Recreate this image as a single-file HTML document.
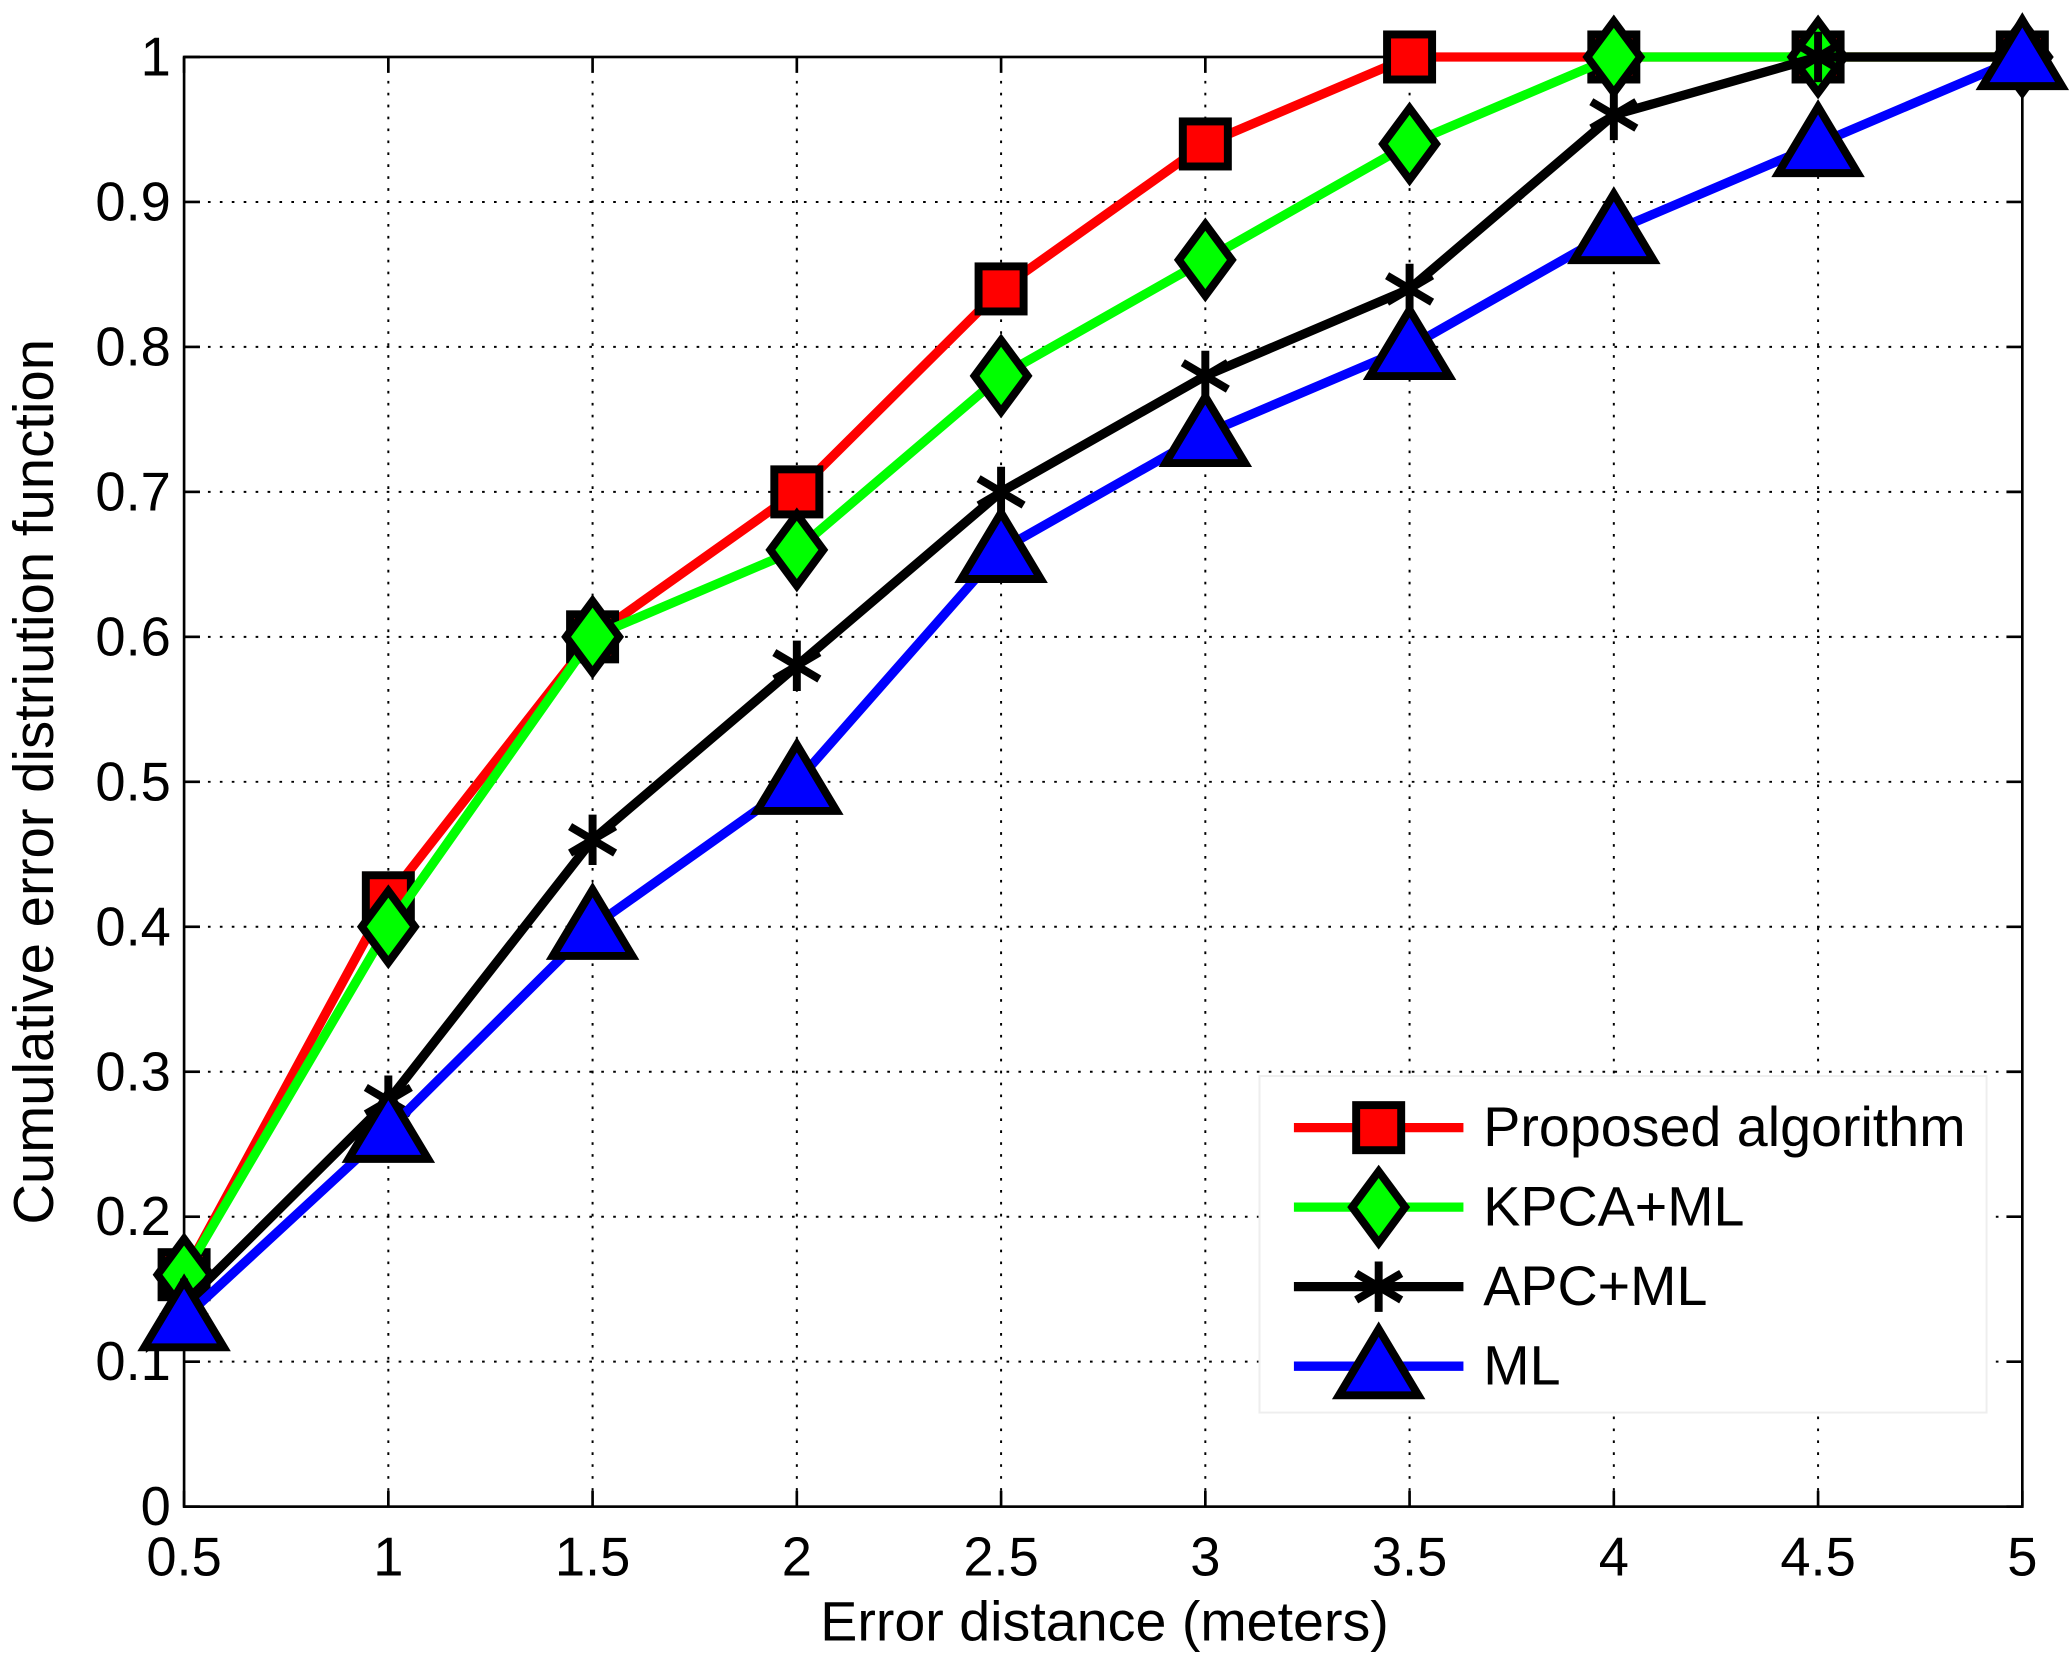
<!DOCTYPE html>
<html><head><meta charset="utf-8"><style>
html,body{margin:0;padding:0;background:#fff;}
svg{display:block;}
text{font-family:"Liberation Sans",sans-serif;fill:#000;}
</style></head><body>
<svg id="chart" width="2070" height="1663" viewBox="0 0 1563 1255" preserveAspectRatio="none" xmlns="http://www.w3.org/2000/svg">
<rect width="1563" height="1255" fill="#fff"/>
<g id="grid"></g>
<g id="axes"></g>
<g id="series"></g>
<g id="legend"></g>
<text x="834" y="1238" font-size="42" text-anchor="middle">Error distance (meters)</text>
<text transform="translate(40,590) rotate(-90)" font-size="42.5" text-anchor="middle">Cumulative error distriution function</text>
</svg>
<script>
const xCats = [0.5,1,1.5,2,2.5,3,3.5,4,4.5,5];
const xTickLabels = ["0.5","1","1.5","2","2.5","3","3.5","4","4.5","5"];
const yTicks = [0,0.1,0.2,0.3,0.4,0.5,0.6,0.7,0.8,0.9,1];
const yTickLabels = ["0","0.1","0.2","0.3","0.4","0.5","0.6","0.7","0.8","0.9","1"];
const proposed = [0.16,0.42,0.6,0.7,0.84,0.94,1,1,1,1];
const kpca = [0.16,0.40,0.6,0.66,0.78,0.86,0.94,1,1,1];
const apc = [0.14,0.28,0.46,0.58,0.70,0.78,0.84,0.96,1,1];
const ml = [0.13,0.26,0.40,0.50,0.66,0.74,0.80,0.88,0.94,1];
const seriesNames = ["Proposed algorithm","KPCA+ML","APC+ML","ML"];

const NS="http://www.w3.org/2000/svg";
const L=139,R=1527,T=43,B=1137;
const sx=v=>L+(v-0.5)/4.5*(R-L);
const sy=v=>B-v*(B-T);
function mk(tag,attrs,parent){const e=document.createElementNS(NS,tag);for(const k in attrs)e.setAttribute(k,attrs[k]);parent.appendChild(e);return e;}
const grid=document.getElementById('grid'),axes=document.getElementById('axes'),ser=document.getElementById('series'),leg=document.getElementById('legend');
xCats.forEach((v,i)=>{
  const x=sx(v);
  if(i>0&&i<xCats.length-1){const g=mk('line',{x1:x,x2:x,y1:T,y2:B,stroke:'#000','stroke-width':1.5,'stroke-dasharray':'2 7'},grid);
  
  }
  mk('line',{x1:x,x2:x,y1:B,y2:B-12,stroke:'#000','stroke-width':2},axes);
  mk('line',{x1:x,x2:x,y1:T,y2:T+12,stroke:'#000','stroke-width':2},axes);
  const t=mk('text',{x:x,y:1189,'font-size':41,'text-anchor':'middle'},axes);t.textContent=xTickLabels[i];
  
  
});
yTicks.forEach((v,i)=>{
  const y=sy(v);
  if(i>0&&i<yTicks.length-1){const g=mk('line',{x1:L,x2:R,y1:y,y2:y,stroke:'#000','stroke-width':1.5,'stroke-dasharray':'2 7'},grid);
  
  }
  mk('line',{x1:L,x2:L+12,y1:y,y2:y,stroke:'#000','stroke-width':2},axes);
  mk('line',{x1:R,x2:R-12,y1:y,y2:y,stroke:'#000','stroke-width':2},axes);
  const t=mk('text',{x:129,y:y+14,'font-size':41,'text-anchor':'end'},axes);t.textContent=yTickLabels[i];
  
  
});
mk('rect',{x:L,y:T,width:R-L,height:B-T,fill:'none',stroke:'#000','stroke-width':2},axes);

function marker(type,x,y,color,parent){
  const g=mk('g',{},parent);
  if(type==='square') mk('rect',{x:x-17,y:y-17,width:34,height:34,fill:color,stroke:'#000','stroke-width':6},g);
  else if(type==='diamond') mk('polygon',{points:`${x},${y-27} ${x+20},${y} ${x},${y+27} ${x-20},${y}`,fill:color,stroke:'#000','stroke-width':6},g);
  else if(type==='tri') mk('polygon',{points:`${x},${y-28} ${x+30},${y+22} ${x-30},${y+22}`,fill:color,stroke:'#000','stroke-width':6},g);
  else { [[0,-19,0,19],[-17,-10,17,10],[-17,10,17,-10]].forEach(d=>mk('line',{x1:x+d[0],y1:y+d[1],x2:x+d[2],y2:y+d[3],stroke:'#000','stroke-width':6},g)); }
  return g;
}
const defs=[[proposed,'#ff0000','square','#ff0000','proposed'],[kpca,'#00ff00','diamond','#00ff00','kpca-ml'],[apc,'#000','star','#000','apc-ml'],[ml,'#0000ff','tri','#0000ff','ml']];
defs.forEach(([d,c,m,f,n])=>{
  const pl=mk('polyline',{points:d.map((v,i)=>sx(xCats[i])+','+sy(v)).join(' '),fill:'none',stroke:c,'stroke-width':7,'stroke-linejoin':'round'},ser);
  
  
  d.forEach((v,i)=>{const g=marker(m,sx(xCats[i]),sy(v),f,ser);
  
  });
});
mk('rect',{x:951,y:812,width:549,height:254,fill:'#fff',stroke:'#eee','stroke-width':1.5},leg);
const legDefs=[['#ff0000','square','#ff0000'],['#00ff00','diamond','#00ff00'],['#000','star','#000'],['#0000ff','tri','#0000ff']];
legDefs.forEach(([c,m,f],i)=>{
  const y=851+i*60;
  const g=mk('g',{},leg);
  
  
  mk('line',{x1:977,x2:1105,y1:y,y2:y,stroke:c,'stroke-width':7},g);
  marker(m,1041,y,f,g);
  const t=mk('text',{x:1120,y:y+14,'font-size':42},g);t.textContent=seriesNames[i];
});
</script>
</body></html>
